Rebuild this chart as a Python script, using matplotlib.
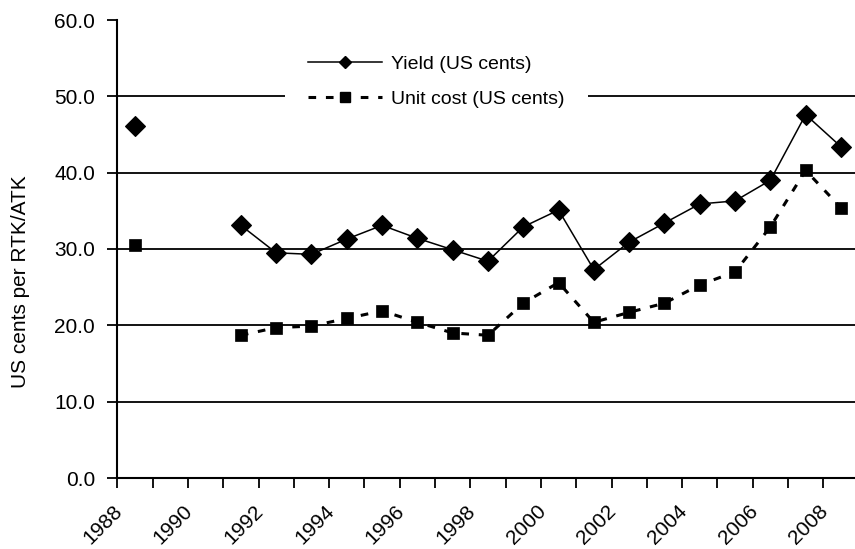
import matplotlib
matplotlib.use("Agg")
import matplotlib.pyplot as plt
from matplotlib.lines import Line2D
from matplotlib.transforms import ScaledTranslation
import numpy as np

plt.rcParams['font.family'] = ['Liberation Sans', 'DejaVu Sans']

years = list(range(1988, 2009))
yield_cents = [46.1, None, None, 33.1, 29.5, 29.3, 31.3, 33.1, 31.4, 29.9, 28.4,
               32.9, 35.1, 27.3, 30.9, 33.4, 35.9, 36.3, 39.0, 47.6, 43.4]
unit_cost_cents = [30.5, None, None, 18.7, 19.7, 19.9, 20.9, 21.9, 20.4, 19.0, 18.7,
                   22.9, 25.6, 20.4, 21.7, 22.9, 25.3, 27.0, 32.9, 40.3, 35.4]
label_years = list(range(1988, 2009, 2))
y_ticks = [0, 10, 20, 30, 40, 50, 60]

W, H = 855, 549
fig = plt.figure(figsize=(W / 100, H / 100), dpi=100)
ax = fig.add_axes([117.3 / W, 1 - 478 / H, (858.6 - 117.3) / W, (478 - 20) / H])

x = np.arange(len(years), dtype=float)
yv = np.array([np.nan if v is None else v for v in yield_cents])
uv = np.array([np.nan if v is None else v for v in unit_cost_cents])

ax.plot(x, yv, color='black', lw=1.1, marker='D', ms=10, mec='black', mew=0.8, zorder=4)
ax.plot(x, uv, color='black', lw=2.2, linestyle=(0, (2.5, 3.2)), marker='s', ms=8.3,
        mec='black', mew=0.5, zorder=4)

ax.set_xlim(-0.5, len(years) - 0.5)
ax.set_ylim(0, 60)

for v in y_ticks[1:-1]:
    ax.axhline(v, color='black', lw=1.3, zorder=1)

ax.set_yticks(y_ticks)
ax.set_yticklabels([f"{v:.1f}" for v in y_ticks])
ax.tick_params(axis='y', direction='out', length=7, width=1.3, pad=9, labelsize=15)

ax.set_xticks([years.index(y) for y in label_years])
ax.set_xticklabels([str(y) for y in label_years], rotation=45, ha='right', va='top')
ax.set_xticks(np.arange(len(years) + 1) - 0.5, minor=True)
ax.tick_params(axis='x', which='major', length=0, pad=17, labelsize=15)
ax.tick_params(axis='x', which='minor', direction='out', length=7, width=1.3)
shift = ScaledTranslation(-9 / 100, 0, fig.dpi_scale_trans)
for lab in ax.get_xticklabels():
    lab.set_transform(lab.get_transform() + shift)

for side in ('top', 'right'):
    ax.spines[side].set_visible(False)
for side in ('left', 'bottom'):
    ax.spines[side].set_linewidth(1.5)
    ax.spines[side].set_zorder(5)

fig.text(21 / W, 1 - 282 / H, "US cents per RTK/ATK", rotation=90,
         ha='center', va='center', fontsize=15)

handles = [
    Line2D([], [], color='black', lw=1.1, marker='D', ms=6.5, mec='black'),
    Line2D([], [], color='black', lw=2.2, linestyle=(0, (2.5, 3.2)), marker='s', ms=7.5,
           mec='black'),
]
leg = ax.legend(handles, ["Yield (US cents)", "Unit cost (US cents)"],
                loc='upper left', bbox_to_anchor=(285 / W, 1 - 32 / H),
                bbox_transform=fig.transFigure, fontsize=14, frameon=True,
                facecolor='white', edgecolor='none', framealpha=1, fancybox=False,
                handlelength=3.8, handletextpad=0.45, borderpad=1.2, labelspacing=0.9,
                borderaxespad=0)
leg.set_zorder(6)

fig.savefig("out.png", dpi=100)
